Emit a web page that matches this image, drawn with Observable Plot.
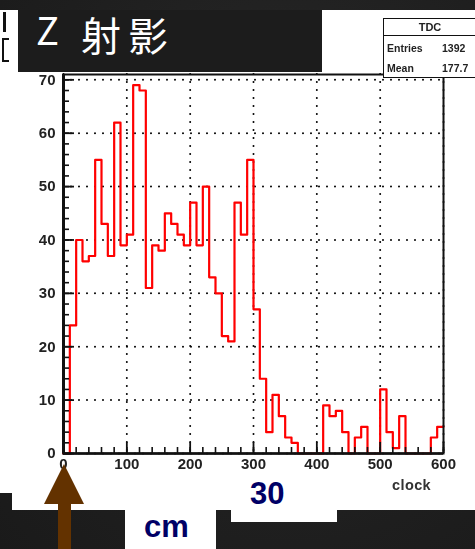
<!DOCTYPE html>
<html>
<head>
<meta charset="utf-8">
<script src="https://cdn.jsdelivr.net/npm/d3@7"></script>
<script src="https://cdn.jsdelivr.net/npm/@observablehq/plot@0.6"></script>
<style>
  html, body { margin: 0; padding: 0; }
  body {
    width: 475px; height: 549px; overflow: hidden; position: relative;
    background: radial-gradient(ellipse at 60% 40%, #2a2a2a 0%, #1e1e1e 70%, #1a1a1a 100%);
    font-family: "Liberation Sans", Arial, sans-serif;
  }
  #canvas { position: absolute; left: 12px; top: 10px; width: 463px; height: 500px; background: #fff; }
  #canvas svg { filter: blur(0.3px); }
  #strip { position: absolute; left: 0; top: 10px; width: 12px; height: 483px; background: #fff; }
  .mark { position: absolute; background: #111; }
  #title { position: absolute; left: 18px; top: 10px; width: 304px; height: 62px; background: #1c1c1c; color: #fff; }
  #title span { position: absolute; line-height: 1; font-family: "Noto Sans CJK SC", "Noto Sans", sans-serif; }
  #stats { position: absolute; left: 383px; top: 18px; width: 110px; height: 60px; background: #fff; border: 1.5px solid #111; box-sizing: border-box; color: #222; font-weight: bold; font-size: 10.5px; filter: blur(0.3px); }
  #stats .hd { position: absolute; left: 0; top: 0; width: 92px; height: 16px; line-height: 16px; text-align: center; border-bottom: 1.5px solid #111; font-size: 11px; }
  #stats .row { position: absolute; left: 3px; }
  #stats .val { position: absolute; left: 58px; }
  #clock { position: absolute; left: 392px; top: 477px; font-size: 14.5px; letter-spacing: 0.4px; font-weight: bold; color: #333; filter: blur(0.3px); }
  .box { position: absolute; background: #fff; }
  .big { position: absolute; font-weight: bold; color: #000066; font-size: 31px; line-height: 31px; }
</style>
</head>
<body>
<div id="strip"></div>
<div class="mark" style="left:3px;top:12px;width:3px;height:20px"></div>
<div class="mark" style="left:2px;top:38px;width:7px;height:2px"></div>
<div class="mark" style="left:2px;top:38px;width:2px;height:24px"></div>
<div class="mark" style="left:2px;top:60px;width:7px;height:2px"></div>
<div id="canvas"></div>
<div id="title"><span style="left:18px;top:0px;font-size:38px">Z</span><span style="left:63px;top:4px;font-size:40px;letter-spacing:7px">射影</span></div>
<div id="stats">
  <div class="hd">TDC</div>
  <div class="row" style="top:23px">Entries</div><div class="val" style="top:23px">1392</div>
  <div class="row" style="top:43px">Mean</div><div class="val" style="top:43px">177.7</div>
</div>
<div id="clock">clock</div>
<div class="box" style="left:125px;top:505px;width:91px;height:44px"></div>
<div class="box" style="left:231px;top:505px;width:106px;height:17px"></div>
<div class="big" style="left:250px;top:478px">30</div>
<div class="big" style="left:144px;top:511px">cm</div>
<svg id="arrow" width="475" height="549" style="position:absolute;left:0;top:0">
  <path d="M64,464 L84,504 L71,504 L71,549 L58,549 L58,504 L44,504 Z" fill="#633200"/>
</svg>
<script>
// TDC histogram: 60 bins of 10 clock counts from 0 to 600
const binWidth = 10;
const counts = [
  0, 24, 40, 36, 37, 55, 43, 37, 62, 39,
  41, 69, 68, 31, 39, 38, 45, 43, 41, 39,
  47, 39, 50, 33, 30, 22, 21, 47, 41, 55,
  27, 14, 4, 11, 7, 3, 2, 0, 0, 0,
  0, 9, 7, 8, 4, 0, 3, 5, 0, 0,
  12, 4, 1, 7, 0, 0, 0, 0, 3, 5
];
const xTicks = [0, 100, 200, 300, 400, 500, 600];
const yTicks = [0, 10, 20, 30, 40, 50, 60, 70];
const xMinor = d3.range(0, 601, 20);
const yMinor = d3.range(0, 71, 2);

// outline points: each bin's low edge, plus the closing upper edge
const steps = counts.map((c, i) => ({x: i * binWidth, y: c}));
steps.push({x: counts.length * binWidth, y: counts[counts.length - 1]});

const dotted = {stroke: "#000", strokeOpacity: 1, strokeWidth: 2, strokeDasharray: "0,8", strokeLinecap: "round"};
const axisFont = {fontSize: 15, fontWeight: "bold", fill: "#222", label: null};

const chart = Plot.plot({
  width: 463,
  height: 500,
  marginLeft: 51,
  marginRight: 32,
  marginTop: 64,
  marginBottom: 57,
  style: {background: "transparent", fontFamily: "Liberation Sans, Arial, sans-serif"},
  x: {domain: [0, 600]},
  y: {domain: [0, 71]},
  marks: [
    Plot.gridY(yTicks, dotted),
    Plot.gridX(xTicks, dotted),
    Plot.line(steps, {x: "x", y: "y", curve: "step-after", stroke: "#ff0000", strokeWidth: 2.2}),
    Plot.axisY(yMinor, {tickSize: -6, fill: "none", stroke: "#111", strokeWidth: 1.6}),
    Plot.axisY(yTicks, {tickSize: -11, fill: "none", stroke: "#111", strokeWidth: 1.8}),
    Plot.axisY(yTicks, {tickSize: 0, tickPadding: 8, ...axisFont}),
    Plot.axisX(xMinor, {tickSize: -6, fill: "none", stroke: "#111", strokeWidth: 1.6}),
    Plot.axisX(xTicks, {tickSize: -11, fill: "none", stroke: "#111", strokeWidth: 1.8}),
    Plot.axisX(xTicks, {tickSize: 0, tickPadding: 5, ...axisFont}),
    Plot.frame({stroke: "#111", strokeWidth: 2}),
    Plot.ruleX([0], {stroke: "#111", strokeWidth: 3}),
    Plot.ruleY([0], {stroke: "#111", strokeWidth: 2.5})
  ]
});
document.getElementById("canvas").appendChild(chart);
</script>
</body>
</html>
